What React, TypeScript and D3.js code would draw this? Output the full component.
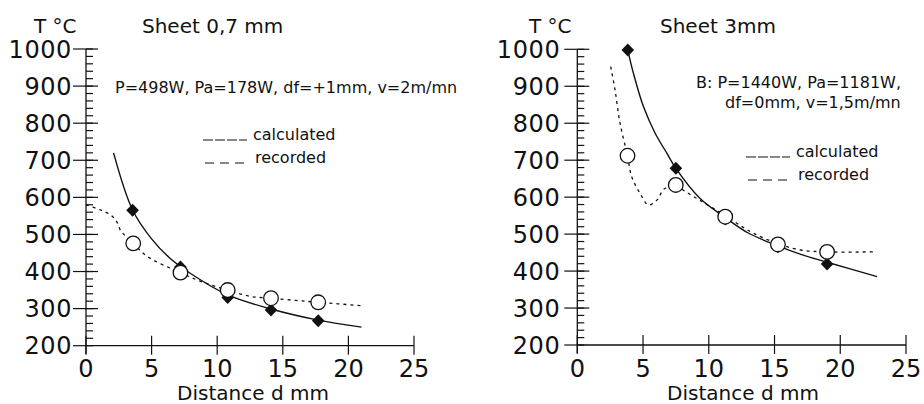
import React from 'react';
import * as d3 from 'd3';

// tick values
const distTicks = [0, 5, 10, 15, 20, 25];
const tempTicks = [200, 300, 400, 500, 600, 700, 800, 900, 1000];

// Sheet 0,7 mm
const thinCalcDist = [3.55, 7.2, 10.8, 14.1, 17.7];
const thinCalcTemp = [565, 412, 330, 296, 267];
const thinCurveDist = [2.1, 3.55, 5, 6.4, 8, 10.8, 14.1, 17.7, 21];
const thinCurveTemp = [720, 566, 488, 436, 394, 337, 299, 269, 250];
const thinRecDist = [3.6, 7.2, 10.8, 14.1, 17.7];
const thinRecTemp = [476, 397, 350, 328, 317];
const thinRecLineDist = [0, 1.1, 1.9, 2.35, 2.65, 3.6, 4.7, 7.2, 9, 10.8, 12.5, 14.1, 16, 17.7, 21];
const thinRecLineTemp = [580, 566, 552, 534, 510, 476, 440, 397, 370, 350, 333, 328, 322, 317, 308];

// Sheet 3mm
const thickCalcDist = [3.84, 7.5, 11.25, 15.26, 19.0];
const thickCalcTemp = [998, 678, 541, 466, 419];
const thickCurveDist = [3.84, 4.27, 5.03, 5.92, 6.81, 7.5, 9.3, 11.25, 13, 15.26, 17, 19, 22.8];
const thickCurveTemp = [998, 935, 845, 773, 719, 678, 598, 545, 503, 468, 445, 424, 385];
const thickRecDist = [3.82, 7.49, 11.25, 15.26, 19.0];
const thickRecTemp = [712, 633, 547, 472, 452];
const thickRecLineDist = [2.54, 2.87, 3.25, 3.82, 4.14, 4.78, 5.4, 6.05, 6.6, 7.49, 8.1, 9.3, 11.25, 13.2, 15.26, 17, 19, 22.7];
const thickRecLineTemp = [953, 890, 800, 712, 655, 610, 579, 592, 622, 633, 618, 592, 550, 506, 474, 457, 452, 452];

const FONT = '"DejaVu Sans", sans-serif';
const INK = '#111';

type P = { d: number; t: number };
const zip = (a: number[], b: number[]): P[] => a.map((d, i) => ({ d, t: b[i] }));

function Panel(props: any) {
  const { x, y, labelGap, title, unit, notes, legend, calc, curve, rec, recLine, xTitle } = props;
  const [x0] = x.range();
  const y0 = y(200);
  const line = d3.line<P>().x(p => x(p.d)).y(p => y(p.t)).curve(d3.curveCatmullRom.alpha(0.5));
  const minor = y.ticks(40);
  return (
    <g>
      {/* y axis */}
      <line x1={x0} x2={x0} y1={y(1000)} y2={y0 + 8} stroke={INK} strokeWidth={1.3} />
      {minor.map((t: number) => (
        <line key={'m' + t} x1={x0} x2={x0 + 7} y1={y(t)} y2={y(t)} stroke={INK} strokeWidth={1.2} />
      ))}
      {tempTicks.map(t => (
        <g key={'t' + t}>
          <line x1={x0 - 13} x2={t === 200 ? x0 : x0 + 12} y1={y(t)} y2={y(t)} stroke={INK} strokeWidth={1.2} />
          <text x={x0 - labelGap} y={y(t)} dy="0.36em" textAnchor="end" fontSize={24} letterSpacing={0.6} fill={INK}>
            {t}
          </text>
        </g>
      ))}
      {/* x axis */}
      <line x1={x0} x2={x(25)} y1={y0} y2={y0} stroke={INK} strokeWidth={1.3} />
      {distTicks.map(d => (
        <g key={'d' + d}>
          <line x1={x(d)} x2={x(d)} y1={y0 - 10} y2={y0 + 9} stroke={INK} strokeWidth={1.2} />
          <text x={x(d)} y={377} textAnchor="middle" fontSize={24} fill={INK}>{d}</text>
        </g>
      ))}
      <text x={xTitle} y={400} textAnchor="middle" fontSize={20} fill={INK}>Distance d mm</text>
      <text x={unit.x} y={33} fontSize={20} fill={INK}>T °C</text>
      <text x={title.x} y={33} fontSize={20} fill={INK}>{title.text}</text>
      {notes.map((n: any, i: number) => (
        <text key={'n' + i} x={n.x} y={n.y} fontSize={16} fill={INK}>{n.text}</text>
      ))}
      {/* legend */}
      <line x1={legend.x} x2={legend.x + 44} y1={legend.y1} y2={legend.y1} stroke={INK} strokeWidth={1.2} strokeDasharray="10,2" />
      <text x={legend.x + 50} y={legend.y1} fontSize={16} fill={INK}>calculated</text>
      <line x1={legend.x + 2} x2={legend.x + 44} y1={legend.y2} y2={legend.y2} stroke={INK} strokeWidth={1.2} strokeDasharray="9,6" />
      <text x={legend.x + 52} y={legend.y2} fontSize={16} fill={INK}>recorded</text>
      {/* series */}
      <path d={line(recLine) || ''} fill="none" stroke={INK} strokeWidth={1.3} strokeDasharray="3,4" />
      <path d={line(curve) || ''} fill="none" stroke={INK} strokeWidth={1.4} />
      {calc.map((p: P, i: number) => (
        <path key={'c' + i} transform={`translate(${x(p.d)},${y(p.t)})`} d="M0,-6.5L6.3,0L0,6.5L-6.3,0Z" fill={INK} />
      ))}
      {rec.map((p: P, i: number) => (
        <circle key={'r' + i} cx={x(p.d)} cy={y(p.t)} r={7.3} fill="#fff" stroke={INK} strokeWidth={1.3} />
      ))}
    </g>
  );
}

export default function App() {
  const xL = d3.scaleLinear().domain([0, 25]).range([86, 414]);
  const yL = d3.scaleLinear().domain([200, 1000]).range([345.7, 49]);
  const xR = d3.scaleLinear().domain([0, 25]).range([577.3, 906]);
  const yR = d3.scaleLinear().domain([200, 1000]).range([345, 49.3]);
  return (
    <svg width={924} height={404} style={{ position: 'absolute', left: 0, top: 0, background: '#fff' }} fontFamily={FONT}>
      <rect width={924} height={404} fill="#fff" />
      <Panel
        x={xL}
        y={yL}
        labelGap={14}
        xTitle={253}
        unit={{ x: 34 }}
        title={{ x: 142, text: 'Sheet 0,7 mm' }}
        notes={[{ x: 115, y: 93, text: 'P=498W, Pa=178W, df=+1mm, v=2m/mn' }]}
        legend={{ x: 203, y1: 140, y2: 163 }}
        calc={zip(thinCalcDist, thinCalcTemp)}
        curve={zip(thinCurveDist, thinCurveTemp)}
        rec={zip(thinRecDist, thinRecTemp)}
        recLine={zip(thinRecLineDist, thinRecLineTemp)}
      />
      <Panel
        x={xR}
        y={yR}
        labelGap={17}
        xTitle={743}
        unit={{ x: 529 }}
        title={{ x: 660, text: 'Sheet 3mm' }}
        notes={[
          { x: 696, y: 88, text: 'B: P=1440W, Pa=1181W,' },
          { x: 725, y: 108, text: 'df=0mm, v=1,5m/mn' },
        ]}
        legend={{ x: 746, y1: 157, y2: 180 }}
        calc={zip(thickCalcDist, thickCalcTemp)}
        curve={zip(thickCurveDist, thickCurveTemp)}
        rec={zip(thickRecDist, thickRecTemp)}
        recLine={zip(thickRecLineDist, thickRecLineTemp)}
      />
    </svg>
  );
}
